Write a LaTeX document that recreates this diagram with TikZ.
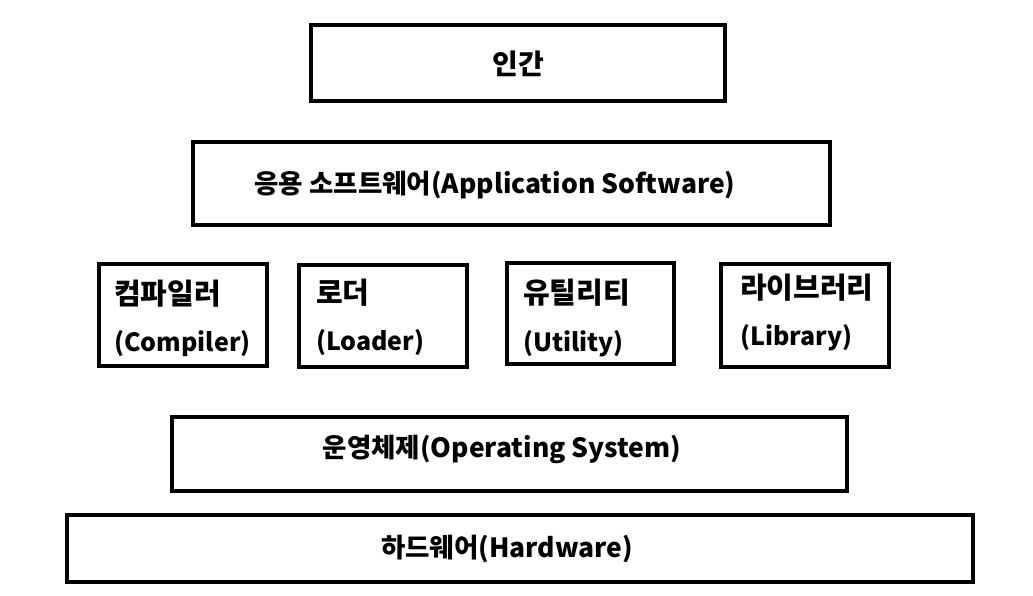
\documentclass[tikz,border=0pt]{standalone}
\usepackage{fontspec}
\newfontfamily\krfont{Noto Sans CJK KR}
\begin{document}
\begin{tikzpicture}[x=1pt,y=-1pt,
  layer/.style={draw=black,line width=4.5pt,minimum width=#1,inner sep=0pt},
  lbl/.style={font=\krfont\bfseries\fontsize{26.5}{30}\selectfont,inner sep=0pt},
  tool/.style={font=\krfont\bfseries\fontsize{29}{32}\selectfont,inner sep=0pt,anchor=west},
  toolen/.style={tool,font=\krfont\bfseries\fontsize{25}{30}\selectfont}]
\useasboundingbox (0,0) rectangle (1033,596);
% layered boxes
\node[layer=414pt,minimum height=76pt] (human) at (518,63) {};
\node[layer=637pt,minimum height=83pt] (app) at (511.5,183.5) {};
\node[layer=168pt,minimum height=102pt] (comp) at (183,315) {};
\node[layer=168pt,minimum height=102pt] (load) at (383,316) {};
\node[layer=167pt,minimum height=101pt] (util) at (590.5,313.5) {};
\node[layer=168pt,minimum height=103pt] (lib) at (805,315.5) {};
\node[layer=675pt,minimum height=74pt] (os) at (509.5,454) {};
\node[layer=906pt,minimum height=67pt] (hw) at (520,548.5) {};
% labels
\node[lbl,font=\krfont\bfseries\fontsize{28}{32}\selectfont] (tHuman) at (518,64) {인간};
\node[lbl] (tApp) at (495,185) {응용 소프트웨어(Application Software)};
\node[tool] (tComp) at (114,294) {컴파일러};
\node[toolen] (tCompE) at (114,344) {(Compiler)};
\node[tool] (tLoad) at (316,293) {로더};
\node[toolen] (tLoadE) at (316,343) {(Loader)};
\node[tool] (tUtil) at (523,293) {유틸리티};
\node[toolen] (tUtilE) at (523,344) {(Utility)};
\node[tool] (tLib) at (740,288) {라이브러리};
\node[toolen] (tLibE) at (740,338) {(Library)};
\node[lbl] (tOS) at (502,449) {운영체제(Operating System)};
\node[lbl] (tHW) at (507,549) {하드웨어(Hardware)};
\end{tikzpicture}
\end{document}
